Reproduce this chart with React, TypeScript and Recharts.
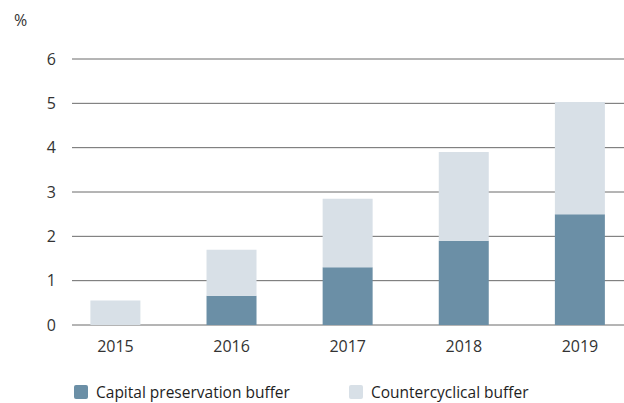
import React from "react";
import { BarChart, Bar, XAxis, YAxis, CartesianGrid } from "recharts";

// values, in %
const years = ["2015", "2016", "2017", "2018", "2019"];
const capitalPreservation = [0, 0.66, 1.3, 1.9, 2.5];
const countercyclical = [0.55, 1.04, 1.55, 2.0, 2.53];
const yTicks = [0, 1, 2, 3, 4, 5, 6];

const DARK = "#6b8fa6";
const LIGHT = "#d8e0e7";
const FONT = "'Open Sans', 'Noto Sans', sans-serif";

const data = years.map((year, i) => ({
  year,
  capital: capitalPreservation[i],
  counter: countercyclical[i],
}));

const LegendItem = ({ color, label, left }: { color: string; label: string; left: number }) => (
  <div style={{ position: "absolute", left, top: 381, display: "flex", alignItems: "center" }}>
    <div style={{ width: 14, height: 14, borderRadius: 2, background: color, marginRight: 8 }} />
    <span style={{ fontSize: 15.5, color: "#1e1e1e" }}>{label}</span>
  </div>
);

export default function App() {
  return (
    <div
      style={{
        position: "absolute",
        left: 0,
        top: 0,
        width: 624,
        height: 403,
        background: "#fff",
        fontFamily: FONT,
      }}
    >
      <div style={{ position: "absolute", left: 14, top: 9, fontSize: 16, color: "#333" }}>%</div>
      <BarChart
        width={624}
        height={403}
        data={data}
        margin={{ top: 59, right: 0, bottom: 48, left: 0 }}
        barSize={50}
      >
        <CartesianGrid vertical={false} stroke="#6a6a6a" />
        <XAxis
          dataKey="year"
          height={30}
          axisLine={false}
          tickLine={false}
          padding={{ left: -14.6, right: -14 }}
          tick={{ fill: "#333", fontSize: 16, fontFamily: FONT }}
          tickMargin={10}
        />
        <YAxis
          width={72}
          domain={[0, 6]}
          ticks={yTicks}
          axisLine={false}
          tickLine={false}
          tick={{ fill: "#333", fontSize: 16, fontFamily: FONT }}
          tickMargin={10}
        />
        <Bar dataKey="capital" stackId="a" fill={DARK} isAnimationActive={false} />
        <Bar dataKey="counter" stackId="a" fill={LIGHT} isAnimationActive={false} />
      </BarChart>
      <LegendItem color={DARK} label="Capital preservation buffer" left={74} />
      <LegendItem color={LIGHT} label="Countercyclical buffer" left={349} />
    </div>
  );
}
